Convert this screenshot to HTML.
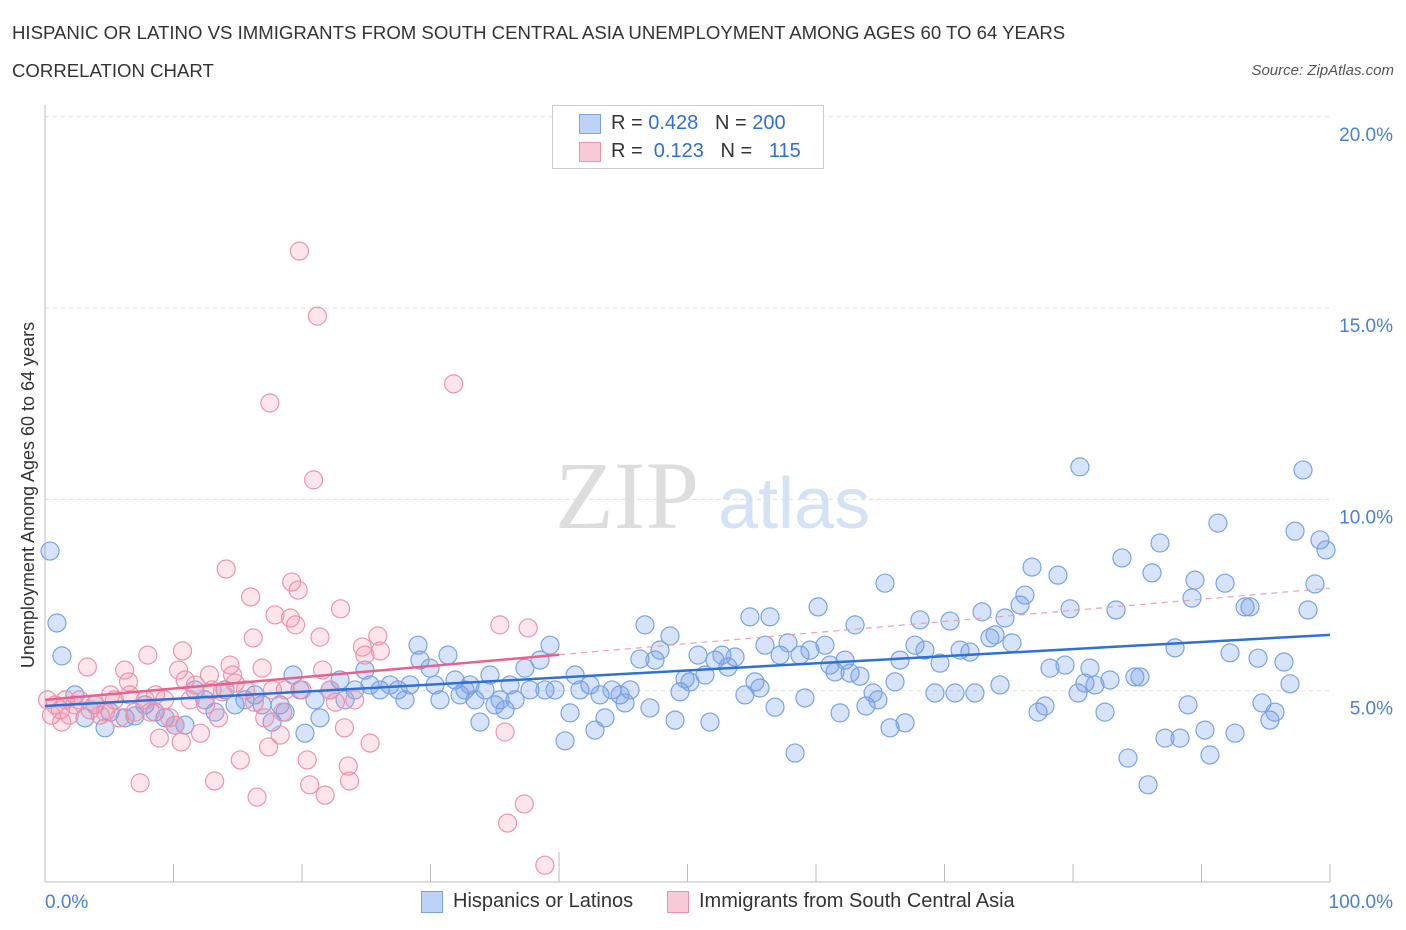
<!DOCTYPE html>
<html><head><meta charset="utf-8"><style>
body{margin:0;background:#fff;font-family:"Liberation Sans",sans-serif;}
#wrap{position:relative;width:1406px;height:930px;overflow:hidden;}
.t{position:absolute;white-space:nowrap;}
</style></head><body>
<div id="wrap">
<div class="t" style="left:12px;top:22px;font-size:18.6px;color:#333;">HISPANIC OR LATINO VS IMMIGRANTS FROM SOUTH CENTRAL ASIA UNEMPLOYMENT AMONG AGES 60 TO 64 YEARS</div>
<div class="t" style="left:12px;top:60px;font-size:18.6px;color:#333;">CORRELATION CHART</div>
<div class="t" style="right:12px;top:62px;font-size:15px;color:#555;font-style:italic;">Source: ZipAtlas.com</div>
<svg id="svg" width="1406" height="930" style="position:absolute;left:0;top:0"></svg>
</div>
<script>
const yTicks=[5,10,15,20];
const xTickLabels=["0.0%","100.0%"];
const blueX=[0.39,0.93,1.32,2.33,3.11,3.89,4.67,5.06,6.23,7.00,7.78,8.56,9.34,10.12,10.89,11.67,12.45,13.23,14.01,14.79,15.56,16.34,16.89,17.67,18.29,18.68,19.30,19.84,20.23,21.01,21.40,22.18,22.96,23.35,24.12,24.90,25.29,26.07,26.85,27.47,28.02,28.40,29.03,29.18,29.96,30.35,30.74,31.36,31.91,32.30,32.68,33.07,33.46,33.85,34.24,34.63,35.02,35.41,35.80,36.19,36.58,37.35,37.74,38.52,38.91,39.30,39.69,40.47,40.86,41.25,41.63,42.41,42.80,43.19,43.58,44.12,44.75,45.14,45.53,46.30,46.69,47.08,47.47,47.86,48.64,49.03,49.42,49.81,50.19,50.82,51.36,51.75,52.14,52.68,53.15,53.70,54.47,54.86,55.25,55.64,56.03,56.42,56.81,57.20,57.82,58.37,58.75,59.14,59.53,60.16,60.70,61.09,61.48,61.87,62.26,62.65,63.04,63.42,63.89,64.44,64.82,65.37,65.76,66.15,66.54,66.93,67.70,68.09,68.48,69.26,69.65,70.43,70.82,71.21,71.98,72.37,72.92,73.54,73.93,74.32,74.71,75.25,75.88,76.26,76.81,77.28,77.82,78.21,78.83,79.38,79.77,80.39,80.54,80.93,81.32,81.71,82.49,82.88,83.35,83.81,84.28,84.82,85.21,85.84,86.15,86.77,87.16,87.94,88.33,88.95,89.26,89.49,90.27,90.66,91.28,91.83,92.22,92.61,93.39,93.77,94.40,94.71,95.33,95.72,96.42,96.89,97.28,97.90,98.29,98.83,99.22,99.69];
const blueY=[8.65,6.77,5.91,4.89,4.29,4.63,4.03,4.44,4.29,4.34,4.63,4.44,4.29,4.10,4.10,5.02,4.76,4.44,5.02,4.63,4.76,4.89,4.63,4.18,4.63,4.44,5.41,5.02,3.89,4.76,4.29,5.02,5.28,4.76,5.02,5.54,5.15,5.02,5.15,5.02,4.76,5.15,6.19,5.80,5.59,5.15,4.76,5.93,5.28,4.89,5.02,5.15,4.76,4.18,5.02,5.41,4.63,4.76,4.50,5.15,4.76,5.59,5.02,5.80,5.02,6.19,5.02,3.69,4.42,5.41,5.02,5.15,3.97,4.89,4.29,5.02,4.89,4.68,5.02,5.83,6.72,4.55,5.80,6.06,6.43,4.23,4.97,5.31,5.23,5.93,5.41,4.18,5.80,5.93,5.62,5.88,4.89,6.93,5.23,5.07,6.19,6.93,4.57,5.93,6.25,3.37,5.93,4.81,6.06,7.19,6.19,5.67,5.49,4.42,5.80,5.46,6.72,5.38,4.60,4.94,4.76,7.81,4.03,5.23,5.80,4.16,6.19,6.85,6.06,4.94,5.72,6.82,4.94,6.06,6.01,4.94,7.06,6.38,6.46,5.15,6.90,6.25,7.24,7.50,8.23,4.44,4.60,5.59,8.02,5.67,7.14,4.94,10.85,5.20,5.59,5.15,4.44,5.28,7.11,8.47,3.24,5.36,5.36,2.54,8.08,8.86,3.76,6.12,3.76,4.63,7.42,7.89,3.97,3.32,9.38,7.81,5.99,3.89,7.19,7.19,5.85,4.68,4.23,4.44,5.75,5.18,9.17,10.77,7.11,7.79,8.94,8.68];
const pinkX=[0.2,0.5,0.8,1.2,1.3,1.6,1.9,2.3,2.7,3.3,3.5,3.9,4.3,4.7,5.1,5.4,5.8,6.2,6.5,6.6,7.0,7.4,7.8,8.0,8.2,8.6,8.9,9.3,9.7,10.1,10.4,10.6,10.7,10.9,11.3,11.7,12.1,12.5,12.8,13.0,13.2,13.5,13.8,14.1,14.4,14.6,14.8,15.2,15.6,16.0,16.2,16.3,16.5,16.9,17.1,17.4,17.5,17.7,17.9,18.3,18.5,18.7,19.1,19.2,19.5,19.7,19.8,20.0,20.4,20.6,20.9,21.2,21.4,21.6,21.8,22.2,22.6,23.0,23.3,23.6,23.7,24.1,24.7,24.9,25.3,25.9,26.1,31.8,35.4,35.8,36.0,37.3,37.6,38.9];
const pinkY=[4.76,4.36,4.63,4.50,4.18,4.76,4.36,4.63,4.76,5.62,4.50,4.63,4.36,4.44,4.89,4.76,4.29,5.54,5.23,4.89,4.44,2.59,4.76,5.93,4.44,4.89,3.76,4.76,4.29,4.10,5.54,3.66,6.04,5.28,4.76,5.15,3.89,4.63,5.41,5.02,2.64,4.29,4.97,8.18,5.67,5.41,5.20,3.19,5.02,7.45,6.38,4.70,2.22,5.59,4.29,3.53,12.52,5.02,6.98,3.84,4.44,5.02,6.90,7.84,6.72,7.63,16.49,5.02,3.19,2.54,10.51,14.79,6.40,5.54,2.27,5.02,4.70,7.14,4.03,3.03,2.64,4.76,6.14,5.93,3.63,6.43,6.04,13.02,6.72,3.92,1.54,2.04,6.64,0.44];
const X=v=>45+v*12.85, Y=v=>882-v*38.26;
const s=document.getElementById('svg'), NS='http://www.w3.org/2000/svg';
function mk(t,a){const e=document.createElementNS(NS,t);for(const k in a)e.setAttribute(k,a[k]);s.appendChild(e);return e;}
let w=mk('text',{x:555,y:528,'font-size':96,'font-family':'Liberation Serif,serif',fill:'#ddd'});w.textContent='ZIP';


w=mk('text',{x:718,y:528,'font-size':72,'font-family':'Liberation Sans,sans-serif',fill:'#d3e2f4'});w.textContent='atlas';


yTicks.forEach(v=>{let l=mk('line',{x1:45,x2:1330,y1:Y(v),y2:Y(v),stroke:'#ddd','stroke-dasharray':'4,4'});


let t=mk('text',{x:1393,y:Y(v)+24,'text-anchor':'end','font-size':19,fill:'#4a7fd6'});t.textContent=v.toFixed(1)+'%';

});
let ax=mk('line',{x1:45,x2:1330,y1:882,y2:882,stroke:'#bbb'});


ax=mk('line',{x1:45,x2:45,y1:105,y2:882,stroke:'#bbb'});


for(let i=0;i<=10;i++){let l=mk('line',{x1:X(i*10),x2:X(i*10),y1:882,y2:i==4?852:864,stroke:'#bbb'});

}
xTickLabels.forEach((t,i)=>{let e=mk('text',{x:i?1393:45,y:908,'text-anchor':i?'end':'start','font-size':19,fill:'#4a7fd6'});e.textContent=t;

});
let yt=mk('text',{transform:'translate(34,495) rotate(-90)','text-anchor':'middle','font-size':18,fill:'#333'});yt.textContent='Unemployment Among Ages 60 to 64 years';


blueX.forEach((x,i)=>{let c=mk('circle',{cx:X(x),cy:Y(blueY[i]),r:9,fill:'rgba(110,155,230,0.28)',stroke:'#7aa3e3','stroke-width':1.2});

});
pinkX.forEach((x,i)=>{let c=mk('circle',{cx:X(x),cy:Y(pinkY[i]),r:9,fill:'rgba(240,140,170,0.22)',stroke:'#ec93ae','stroke-width':1.2});

});
let tl=mk('line',{x1:X(0),y1:Y(4.6),x2:X(100),y2:Y(6.46),stroke:'#2f6fd6','stroke-width':2.5});


tl=mk('line',{x1:X(0),y1:Y(4.76),x2:X(40),y2:Y(5.94),stroke:'#e8618c','stroke-width':2.5});


tl=mk('line',{x1:X(40),y1:Y(5.94),x2:X(100),y2:Y(7.68),stroke:'#e8a0b8','stroke-width':1.2,'stroke-dasharray':'6,5'});


</script>
<div class="t" style="left:552px;top:105px;width:270px;height:62px;border:1px solid #ccc;background:#fff;font-size:20px;">
<div style="position:absolute;left:26px;top:8px;width:20px;height:18px;background:#bcd3f5;border:1px solid #7aa3e3"></div>
<div class="t" style="left:58px;top:6px;color:#333">R = <span style="color:#2f6fd6">0.428</span>&nbsp;&nbsp;&nbsp;N = <span style="color:#2f6fd6">200</span></div>
<div style="position:absolute;left:26px;top:36px;width:20px;height:18px;background:#f8c9d7;border:1px solid #ec93ae"></div>
<div class="t" style="left:58px;top:34px;color:#333">R = &nbsp;<span style="color:#2f6fd6">0.123</span>&nbsp;&nbsp;&nbsp;N = &nbsp;&nbsp;<span style="color:#2f6fd6">115</span></div>
</div>
<div class="t" style="left:421px;top:891px;width:20px;height:20px;background:#bcd3f5;border:1px solid #7aa3e3"></div>
<div class="t" style="left:453px;top:890px;font-size:20px;color:#333">Hispanics or Latinos</div>
<div class="t" style="left:667px;top:891px;width:20px;height:20px;background:#f8c9d7;border:1px solid #ec93ae"></div>
<div class="t" style="left:699px;top:890px;font-size:20px;color:#333">Immigrants from South Central Asia</div>
</body></html>
